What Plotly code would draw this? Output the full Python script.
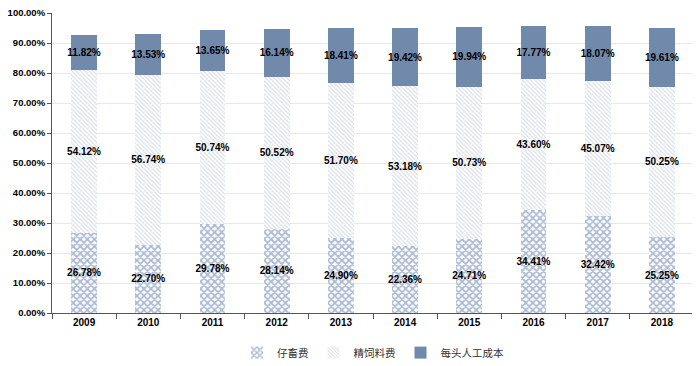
import plotly.graph_objects as go

years = ["2009", "2010", "2011", "2012", "2013", "2014", "2015", "2016", "2017", "2018"]
piglet = [26.78, 22.70, 29.78, 28.14, 24.90, 22.36, 24.71, 34.41, 32.42, 25.25]
feed = [54.12, 56.74, 50.74, 50.52, 51.70, 53.18, 50.73, 43.60, 45.07, 50.25]
labor = [11.82, 13.53, 13.65, 16.14, 18.41, 19.42, 19.94, 17.77, 18.07, 19.61]
names = ["仔畜费", "精饲料费", "每头人工成本"]

def frac(v):
    return [x / 100 for x in v]

def labels(v):
    return ["%.2f%%" % x for x in v]

tfont = dict(family="Liberation Sans", size=10, color="black", weight="bold")

fig = go.Figure()
fig.add_trace(go.Bar(
    x=years, y=frac(piglet), name=names[0], text=labels(piglet),
    textposition="inside", insidetextanchor="middle", textangle=0,
    constraintext="none", textfont=tfont,
    marker=dict(color="white", line=dict(width=0),
                pattern=dict(shape="x", fgcolor="#5d79a7", bgcolor="white",
                             size=5, solidity=0.6)),
))
fig.add_trace(go.Bar(
    x=years, y=frac(feed), name=names[1], text=labels(feed),
    textposition="inside", insidetextanchor="middle", textangle=0,
    constraintext="none", textfont=tfont,
    marker=dict(color="white", line=dict(width=0),
                pattern=dict(shape="\\", fgcolor="#b3bdce", bgcolor="white",
                             size=3, solidity=0.4)),
))
fig.add_trace(go.Bar(
    x=years, y=frac(labor), name=names[2], text=labels(labor),
    textposition="inside", insidetextanchor="middle", textangle=0,
    constraintext="none", textfont=tfont,
    marker=dict(color="#7189ab", line=dict(width=0)),
))

fig.update_layout(
    barmode="stack", bargap=0.6,
    width=700, height=366,
    margin=dict(l=44, r=14, t=5, b=61, autoexpand=False),
    plot_bgcolor="white", paper_bgcolor="white",
    font=dict(family="Liberation Sans", size=10, color="black"),
    showlegend=True,
    legend=dict(orientation="h", x=0.5, xanchor="center", y=-0.132, yanchor="middle",
                font=dict(family="Noto Sans CJK SC", size=10.5, color="#333"),
                itemwidth=30, traceorder="normal"),
)
fig.update_xaxes(
    showline=True, linecolor="#555", linewidth=1, tickson="boundaries",
    ticks="outside", ticklen=5, tickcolor="#555", automargin=False,
    tickfont=dict(size=10, weight="bold", color="black"),
)
fig.update_yaxes(
    range=[0, 1], dtick=0.1, tickformat=".2%",
    showline=True, linecolor="#555", linewidth=1, automargin=False,
    ticks="outside", ticklen=4, tickcolor="#555", ticklabeloverflow="allow",
    gridcolor="#e8e8e8", gridwidth=1, zeroline=False,
    tickfont=dict(size=9.5, weight="bold", color="black"),
)

fig.write_html("out.html")
